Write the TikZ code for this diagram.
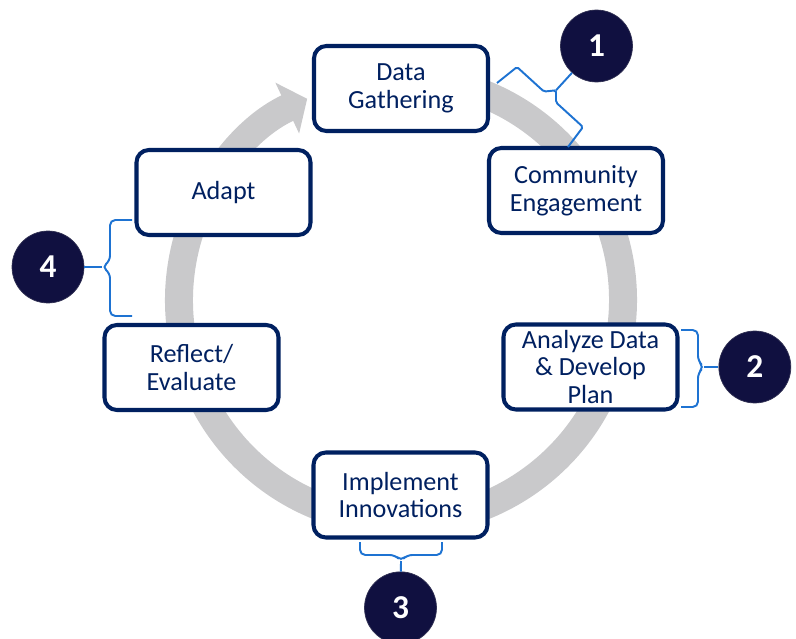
\documentclass[tikz,border=0pt]{standalone}
\usepackage{fontspec}
\setmainfont{Carlito}
\usetikzlibrary{positioning,calc,arrows.meta}

\definecolor{navy}{RGB}{0,32,96}
\definecolor{darknavy}{RGB}{16,16,64}
\definecolor{braceblue}{RGB}{30,115,210}
\definecolor{ringgray}{RGB}{201,201,203}

\begin{document}
\begin{tikzpicture}[x=0.02cm,y=-0.02cm,
  stepbox/.style={draw=navy,line width=2.3pt,fill=white,rounded corners=7pt,
    minimum width=3.48cm,minimum height=1.7cm,inner sep=1pt,align=center,
    text=navy,font=\fontsize{14.9}{15.9}\selectfont},
  numdot/.style={circle,fill=darknavy,draw=darknavy!70!gray,thin,minimum size=1.44cm,
    inner sep=0pt,text=white,font=\fontsize{19}{20}\selectfont\bfseries},
  bracket/.style={draw=braceblue,line width=1.1pt,rounded corners=3pt},
  node distance=0.6cm]

 \useasboundingbox (0,0) rectangle (796,639);

 % grey cycle arrow (y axis points down, so angles are mirrored)
 \coordinate (hub) at (401,300);
 \draw[ringgray,line width=0.56cm,-{Triangle[length=0.44cm,width=1.1cm]}]
   (hub) ++(-80:222) arc[start angle=-80,end angle=245,radius=222];

 % the six steps
 \node[stepbox] (gather)    at (401,88.5)   {Data\\Gathering};
 \node[stepbox] (engage)    at (576,190.5)  {Community\\Engagement};
 \node[stepbox] (analyze)   at (590.5,367)  {Analyze Data\\\& Develop\\Plan};
 \node[stepbox] (implement) at (400.5,495)  {Implement\\Innovations};
 \node[stepbox] (reflect)   at (191.5,367.5){Reflect/\\Evaluate};
 \node[stepbox] (adapt)     at (223.5,192.5){Adapt};

 % numbered phases
 \node[numdot] (n1) at (596.5,46) {1};
 \node[numdot, right=0.78cm of analyze] (n2) {2};
 \node[numdot, below=0.64cm of implement] (n3) {3};
 \node[numdot] (n4) at (48,267) {4};

 % braces
 \coordinate (tip1) at (556,90.3);
 \coordinate (tip2) at (704,367);
 \coordinate (tip3) at (401,561);
 \coordinate (tip4) at (102,267);

 \draw[bracket,rounded corners=1pt] (497,83) -- (517,67) -- (544,91.6) -- (tip1) -- (556,102.4) -- (583,127) -- (568,147);
 \draw[bracket] (681,330) -- (698,330) -- (698,361) -- (tip2) -- (698,373) -- (698,407) -- (681,407);
 \draw[bracket] (360,542) -- (360,555) -- (395,555) -- (tip3) -- (407,555) -- (442,555) -- (442,542);
 \draw[bracket] (132,220) -- (110,220) -- (110,261) -- (tip4) -- (110,273) -- (110,316) -- (132,316);

 \draw[bracket] (n1) -- (tip1);
 \draw[bracket] (n2) -- (tip2);
 \draw[bracket] (n3) -- (tip3);
 \draw[bracket] (n4) -- (tip4);

\end{tikzpicture}
\end{document}
